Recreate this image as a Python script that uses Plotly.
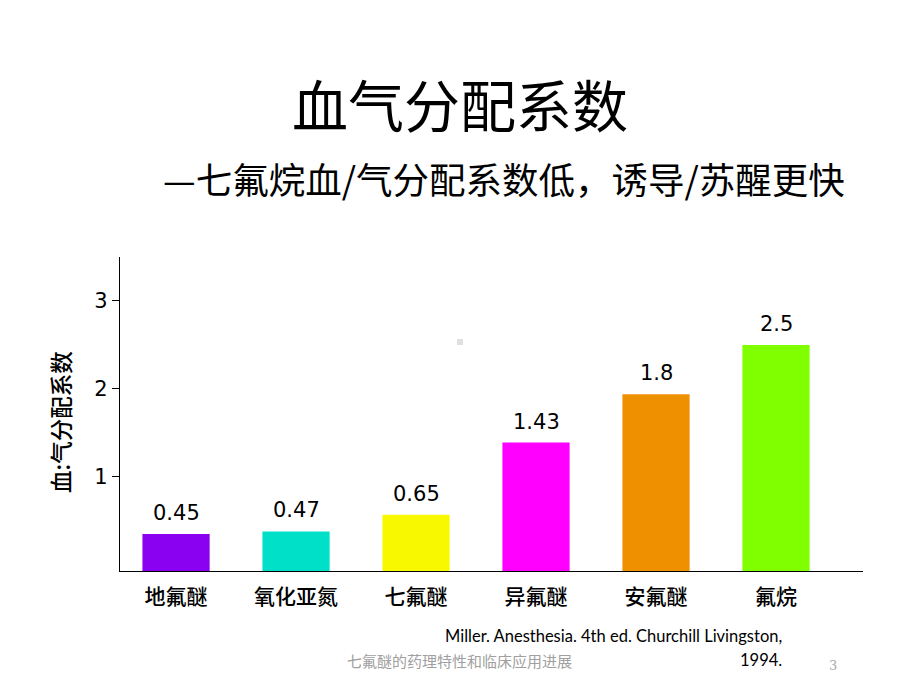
import plotly.graph_objects as go

# ---- data ----
categories = ["地氟醚", "氧化亚氮", "七氟醚", "异氟醚", "安氟醚", "氟烷"]
bar_values = [0.35, 0.38, 0.57, 1.39, 1.94, 2.50]      # heights as drawn
value_labels = ["0.45", "0.47", "0.65", "1.43", "1.8", "2.5"]
bar_colors = ["#8A00F0", "#00E0C8", "#F8F800", "#FF00FF", "#EE9000", "#80FF00"]
y_ticks = [1, 2, 3]

title_text = "血气分配系数"
subtitle_text = "—七氟烷血/气分配系数低，诱导/苏醒更快"
y_title = "血:气分配系数"
citation_1 = "Miller. Anesthesia. 4th ed. Churchill Livingston,"
citation_2 = "1994."
footer_text = "七氟醚的药理特性和临床应用进展"
page_no = "3"

# ---- layout geometry (pixels) ----
W, H = 920, 690
L, R, T, B = 120, 863, 257, 571
Y_MIN, Y_MAX = -0.07, 3.5
X_MIN, X_MAX = -0.467, 5.725

def px(x):
    return (x - L) / (R - L)

def py(y):
    return (B - y) / (B - T)

CJK = "Noto Sans CJK SC"
NUM = "DejaVu Sans"

fig = go.Figure()
fig.add_trace(go.Bar(
    x=list(range(len(categories))),
    y=[v - Y_MIN for v in bar_values],
    base=Y_MIN,
    marker=dict(color=bar_colors, line=dict(width=0)),
    width=0.56,
    hoverinfo="skip",
))

annotations = []
for i, (v, lab) in enumerate(zip(bar_values, value_labels)):
    annotations.append(dict(
        x=i, y=v, xref="x", yref="y", text=lab, showarrow=False,
        xanchor="center", yanchor="bottom", yshift=7,
        font=dict(family=NUM, size=21, color="black"),
    ))

def note(x, y, text, font, xanchor="center", **kw):
    d = dict(x=px(x), y=py(y), xref="paper", yref="paper", text=text,
             showarrow=False, xanchor=xanchor, yanchor="middle", font=font)
    d.update(kw)
    return d

annotations += [
    note(460, 102, title_text, dict(family=CJK, size=56, color="black")),
    note(504, 178, subtitle_text, dict(family=CJK, size=36.5, color="black")),
    note(60, 422, y_title, dict(family=CJK, size=22.5, color="black", weight=500), textangle=-90),
    note(784, 636, citation_1, dict(family="Lato", size=16.5, color="black"), xanchor="right"),
    note(784, 660, citation_2, dict(family="Lato", size=16.5, color="black"), xanchor="right"),
    note(345, 660, footer_text, dict(family=CJK, size=15, color="#A0A0A0"), xanchor="left"),
    note(833, 665, page_no, dict(family="DejaVu Serif", size=13, color="#A8A8A8")),
]

fig.update_layout(
    width=W, height=H,
    margin=dict(l=L, r=W - R, t=T, b=H - B, pad=0),
    paper_bgcolor="white", plot_bgcolor="white",
    showlegend=False,
    annotations=annotations,
    shapes=[dict(type="rect", xref="paper", yref="paper",
                 x0=px(457), x1=px(463), y0=py(345), y1=py(339),
                 fillcolor="#E0E0E0", line=dict(width=0))],
)
fig.update_xaxes(
    range=[X_MIN, X_MAX],
    tickvals=list(range(len(categories))), ticktext=categories,
    showline=True, linecolor="black", linewidth=1.3,
    ticks="outside", ticklen=7, tickcolor="rgba(0,0,0,0)",
    showgrid=False, zeroline=False,
    tickfont=dict(family=CJK, size=21, color="black", weight=500),
)
fig.update_yaxes(
    range=[Y_MIN, Y_MAX],
    tickvals=y_ticks, ticktext=[str(t) for t in y_ticks],
    showline=True, linecolor="black", linewidth=1.3,
    ticks="outside", ticklen=7, tickcolor="black", tickwidth=1.3,
    showgrid=False, zeroline=False,
    tickfont=dict(family=NUM, size=21, color="black"),
)

fig.write_html("out.html")
